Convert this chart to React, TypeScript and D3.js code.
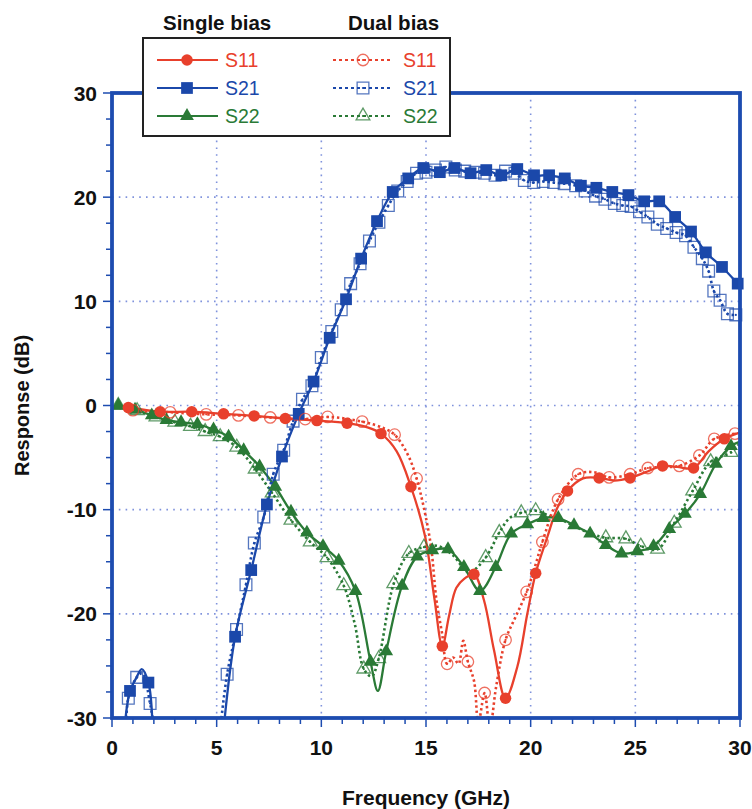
import React, { useEffect, useRef } from 'react';
import * as d3 from 'd3';

// [frequency GHz, response dB, 1 = marker drawn at this point]
const S11_SINGLE = [
  [0.1, -0.1, 0], [0.78, -0.2, 1], [2.3, -0.6, 1], [3.81, -0.6, 1], [5.33, -0.8, 1], [6.79, -1.0, 1],
  [8.28, -1.25, 1], [9.79, -1.45, 1], [11.23, -1.7, 1], [12.2, -2.1, 0], [12.85, -2.7, 1], [13.6, -4.4, 0],
  [14.28, -7.8, 1], [14.95, -12.5, 0], [15.4, -18.5, 0], [15.78, -23.1, 1], [16.1, -20.2, 0], [16.45, -17.5, 0],
  [16.85, -16.6, 0], [17.29, -16.2, 1], [17.77, -18.7, 0], [18.25, -23.5, 0], [18.8, -28.1, 1], [19.36, -25.1, 0],
  [19.84, -20.0, 0], [20.24, -16.1, 1], [20.8, -12.6, 0], [21.28, -9.8, 0], [21.76, -8.2, 1], [22.5, -7.0, 0],
  [23.27, -6.95, 1], [24.0, -7.2, 0], [24.75, -6.95, 1], [25.5, -6.4, 0], [26.3, -5.8, 1], [27.0, -5.9, 0],
  [27.78, -6.0, 1], [28.5, -4.4, 0], [29.25, -3.2, 1], [29.97, -2.6, 0],
];
const S11_DUAL = [
  [0.1, -0.1, 0], [1.0, -0.45, 1], [2.78, -0.65, 1], [4.5, -0.85, 1], [6.04, -0.95, 1], [7.56, -1.15, 1],
  [9.23, -1.3, 1], [10.3, -1.1, 1], [11.95, -1.55, 1], [13.0, -2.2, 0], [13.5, -2.8, 1], [14.1, -4.6, 0],
  [14.55, -7.0, 1], [15.2, -13.0, 0], [15.5, -18.7, 0], [15.77, -21.9, 0], [16.01, -24.8, 1], [16.3, -24.2, 0],
  [16.55, -24.8, 0], [16.78, -22.6, 0], [17.0, -24.6, 1], [17.3, -26.5, 0], [17.5, -30.5, 0], [17.8, -27.6, 1],
  [18.05, -31, 0], [18.35, -27, 0], [18.8, -22.5, 1], [19.3, -20.2, 0], [19.81, -17.9, 1], [20.2, -15.5, 0],
  [20.56, -13.1, 1], [21.31, -9.0, 1], [22.27, -6.6, 1], [23.0, -6.4, 0], [23.75, -6.9, 1], [24.75, -6.6, 1],
  [25.6, -6.0, 1], [26.4, -5.9, 0], [27.1, -5.8, 1], [28.06, -4.8, 1], [28.77, -3.2, 1], [29.76, -2.7, 1],
];
const S21_SINGLE = [
  [0.62, -30.5, 0], [0.86, -27.4, 1], [1.15, -26.2, 0], [1.42, -25.3, 0], [1.74, -26.6, 1], [1.93, -30.5, 0],
  [2.0, NaN, 0],
  [5.36, -30.5, 0], [5.88, -22.2, 1], [6.65, -15.8, 1], [7.4, -9.5, 1], [8.12, -4.9, 1], [8.92, -0.8, 1],
  [9.63, 2.3, 1], [10.4, 6.5, 1], [11.18, 10.2, 1], [11.9, 14.1, 1], [12.66, 17.7, 1], [13.41, 20.5, 1],
  [14.15, 21.8, 1], [14.87, 22.8, 1], [15.66, 22.4, 1], [16.36, 22.8, 1], [17.13, 22.3, 1], [17.88, 22.6, 1],
  [18.6, 22.1, 1], [19.36, 22.7, 1], [20.16, 22.1, 1], [20.88, 22.1, 1], [21.63, 21.8, 1], [22.4, 21.1, 1],
  [23.14, 20.9, 1], [23.9, 20.5, 1], [24.67, 20.2, 1], [25.42, 19.6, 1], [26.14, 19.6, 1], [26.9, 18.1, 1],
  [27.66, 16.7, 1], [28.37, 14.7, 1], [29.14, 13.3, 1], [29.89, 11.7, 1],
];
const S21_DUAL = [
  [0.68, -30.5, 0], [0.78, -28.1, 1], [1.18, -26.1, 1], [1.45, -25.7, 0], [1.82, -28.6, 1], [1.98, -30.5, 0],
  [2.0, NaN, 0],
  [5.2, -30.5, 0], [5.5, -25.8, 1], [5.95, -21.5, 1], [6.4, -17.2, 1], [6.8, -13.2, 1], [7.25, -10.7, 1],
  [7.7, -6.6, 1], [8.2, -4.3, 1], [8.65, -1.5, 1], [9.1, 0.6, 1], [9.55, 1.9, 1], [10.0, 4.6, 1], [10.5, 7.1, 1],
  [10.95, 9.2, 1], [11.4, 11.7, 1], [11.85, 13.6, 1], [12.3, 15.8, 1], [12.75, 17.6, 1], [13.2, 19.2, 1],
  [13.65, 20.6, 1], [14.1, 21.5, 1], [14.55, 22.3, 1], [15.0, 22.4, 1], [15.45, 22.6, 1], [15.95, 22.9, 1],
  [16.4, 22.6, 1], [16.85, 22.5, 1], [17.35, 22.4, 1], [17.8, 22.3, 1], [18.3, 22.1, 1], [18.8, 22.5, 1],
  [19.25, 22.3, 1], [19.7, 21.6, 1], [20.15, 21.4, 1], [20.6, 21.5, 1], [21.1, 21.4, 1], [21.6, 21.3, 1],
  [22.15, 21.1, 1], [22.6, 20.6, 1], [23.1, 20.1, 1], [23.55, 19.8, 1], [24.0, 19.4, 1], [24.4, 19.2, 1],
  [24.8, 19.1, 1], [25.2, 18.6, 1], [25.6, 18.1, 1], [26.05, 17.4, 1], [26.5, 17.0, 1], [26.95, 16.6, 1],
  [27.4, 16.3, 1], [27.8, 15.2, 1], [28.2, 14.1, 1], [28.5, 12.9, 1], [28.75, 11.0, 1], [29.05, 10.1, 1],
  [29.4, 8.8, 1], [29.8, 8.7, 1],
];
const S22_SINGLE = [
  [0.3, 0, 1], [1.1, -0.4, 1], [1.9, -0.95, 1], [2.6, -1.4, 1], [3.3, -1.6, 1], [4.08, -1.8, 1], [4.85, -2.3, 1],
  [5.57, -3.0, 1], [6.29, -4.3, 1], [7.05, -5.85, 1], [7.8, -7.8, 1], [8.55, -10.2, 1], [9.31, -12.2, 1],
  [10.08, -13.5, 1], [10.83, -14.9, 1], [11.63, -17.8, 1], [12.35, -24.6, 1], [12.7, -27.4, 0], [13.1, -23.6, 1],
  [13.86, -17.3, 1], [14.58, -14.5, 1], [15.3, -13.9, 1], [16.05, -13.8, 1], [16.81, -15.5, 1], [17.58, -17.8, 1],
  [18.33, -15.5, 1], [19.07, -12.3, 1], [19.84, -11.4, 1], [20.6, -10.8, 1], [21.32, -10.8, 1], [22.07, -11.5, 1],
  [22.84, -12.3, 1], [23.59, -13.4, 1], [24.34, -14.2, 1], [25.1, -14.0, 1], [25.87, -13.5, 1], [26.62, -11.85, 1],
  [27.37, -10.4, 1], [28.1, -8.5, 1], [28.85, -5.6, 1], [29.57, -3.9, 1], [29.97, -3.5, 0],
];
const S22_DUAL = [
  [0.3, 0, 1], [1.2, -0.5, 1], [2.1, -1.1, 1], [3.0, -1.6, 1], [3.75, -2.0, 1], [4.45, -2.5, 1], [5.17, -3.0, 1],
  [5.96, -4.0, 1], [6.84, -6.1, 1], [7.65, -8.4, 1], [8.55, -11.0, 1], [9.47, -13.1, 1], [10.27, -14.6, 1],
  [11.07, -17.3, 1], [11.6, -21.0, 0], [12.03, -25.3, 1], [12.4, -26.0, 0], [12.74, -24.3, 1], [13.46, -17.1, 1],
  [14.18, -14.2, 1], [14.9, -13.6, 1], [15.6, -13.5, 0], [16.3, -14.4, 0], [17.05, -16.0, 0], [17.85, -14.6, 1],
  [18.5, -12.2, 1], [19.0, -10.8, 0], [19.55, -10.3, 1], [20.24, -10.1, 1], [20.9, -10.6, 0], [21.6, -11.1, 0],
  [22.3, -11.8, 0], [23.0, -12.4, 0], [23.59, -12.7, 1], [24.55, -12.8, 1], [25.26, -13.5, 1], [26.06, -13.8, 1],
  [26.86, -11.3, 1], [27.74, -8.2, 1], [28.6, -5.4, 1], [29.57, -4.5, 1], [29.97, -3.7, 0],
];

const X_TICKS = [0, 5, 10, 15, 20, 25, 30];
const Y_TICKS = [-30, -20, -10, 0, 10, 20, 30];
const LEGEND_NAMES = ['S11', 'S21', 'S22'];

const RED = '#e8402c';
const BLUE = '#1b48aa';
const GREEN = '#2a7a36';
const AXIS = '#1d4cb0';
const GRID = '#7f92dc';
const FONT = 'Arial, "Liberation Sans", Helvetica, sans-serif';

export default function App() {
  const svgRef = useRef(null);

  useEffect(() => {
    const width = 752;
    const height = 809;
    const x0 = 112, x1 = 740, yTop = 93, yBot = 718;

    const x = d3.scaleLinear().domain([0, 30]).range([x0, x1]);
    const y = d3.scaleLinear().domain([-30, 30]).range([yBot, yTop]);

    const svg = d3.select(svgRef.current);
    svg.selectAll('*').remove();
    svg.attr('width', width).attr('height', height).attr('viewBox', `0 0 ${width} ${height}`);

    svg.append('defs').append('clipPath').attr('id', 'plot-clip')
      .append('rect').attr('x', x0).attr('y', yTop).attr('width', x1 - x0).attr('height', yBot - yTop);

    // dotted grid
    const grid = svg.append('g');
    X_TICKS.slice(1, -1).forEach(t => {
      grid.append('line').attr('x1', x(t)).attr('x2', x(t)).attr('y1', yTop).attr('y2', yBot)
        .attr('stroke', GRID).attr('stroke-width', 1.6).attr('stroke-dasharray', '1.6,5.2');
    });
    Y_TICKS.slice(1, -1).forEach(t => {
      grid.append('line').attr('x1', x0).attr('x2', x1).attr('y1', y(t)).attr('y2', y(t))
        .attr('stroke', GRID).attr('stroke-width', 1.6).attr('stroke-dasharray', '1.6,5.2');
    });

    const line = d3.line()
      .defined(d => !isNaN(d[1]))
      .x(d => x(d[0])).y(d => y(d[1]))
      .curve(d3.curveCatmullRom.alpha(0.5));

    const series = [
      { data: S22_DUAL, color: GREEN, dual: true, shape: 'tri' },
      { data: S22_SINGLE, color: GREEN, dual: false, shape: 'tri' },
      { data: S21_DUAL, color: BLUE, dual: true, shape: 'sq' },
      { data: S21_SINGLE, color: BLUE, dual: false, shape: 'sq' },
      { data: S11_DUAL, color: RED, dual: true, shape: 'circ' },
      { data: S11_SINGLE, color: RED, dual: false, shape: 'circ' },
    ];

    const symbolFor = shape => {
      if (shape === 'circ') return d3.symbol().type(d3.symbolCircle).size(Math.PI * 33)();
      if (shape === 'sq') return d3.symbol().type(d3.symbolSquare).size(138)();
      return d3.symbol().type(d3.symbolTriangle).size(82)();
    };

    const drawMarker = (g, cx, cy, s) => {
      const p = g.append('path').attr('d', symbolFor(s.shape))
        .attr('transform', `translate(${cx},${cy})`);
      if (s.dual) {
        p.attr('fill', 'none').attr('stroke', s.color).attr('stroke-opacity', 0.75).attr('stroke-width', 1.3);
        g.append('circle').attr('cx', cx).attr('cy', cy).attr('r', 1.1).attr('fill', s.color);
      } else {
        p.attr('fill', s.color).attr('stroke', 'none');
      }
    };

    const plot = svg.append('g').attr('clip-path', 'url(#plot-clip)');
    series.forEach(s => {
      plot.append('path').datum(s.data).attr('d', line)
        .attr('fill', 'none').attr('stroke', s.color)
        .attr('stroke-width', s.dual ? 2.6 : 2.3)
        .attr('stroke-dasharray', s.dual ? '2.4,2.8' : null);
    });
    const marks = svg.append('g');
    series.forEach(s => {
      s.data.filter(d => d[2] === 1 && !isNaN(d[1]))
        .forEach(d => drawMarker(marks, x(d[0]), y(d[1]), s));
    });

    // frame
    svg.append('rect').attr('x', x0).attr('y', yTop).attr('width', x1 - x0).attr('height', yBot - yTop)
      .attr('fill', 'none').attr('stroke', AXIS).attr('stroke-width', 3.8);

    // axes with minor ticks
    const xAxis = svg.append('g');
    d3.range(0, 31, 1).forEach(t => {
      const major = t % 5 === 0;
      xAxis.append('line').attr('x1', x(t)).attr('x2', x(t)).attr('y1', yBot).attr('y2', yBot + (major ? 9 : 6))
        .attr('stroke', AXIS).attr('stroke-width', 1.5);
    });
    X_TICKS.forEach(t => {
      xAxis.append('text').attr('x', x(t)).attr('y', 755).attr('text-anchor', 'middle')
        .style('font-family', FONT).style('font-weight', 'bold').style('font-size', '21px').style('fill', '#111')
        .text(t);
    });
    const yAxis = svg.append('g');
    d3.range(-30, 30.1, 2.5).forEach(t => {
      const major = t % 10 === 0;
      yAxis.append('line').attr('x1', x0 - (major ? 9 : 6)).attr('x2', x0).attr('y1', y(t)).attr('y2', y(t))
        .attr('stroke', AXIS).attr('stroke-width', 1.5);
    });
    Y_TICKS.forEach(t => {
      yAxis.append('text').attr('x', 97).attr('y', y(t) + 7.5).attr('text-anchor', 'end')
        .style('font-family', FONT).style('font-weight', 'bold').style('font-size', '21px').style('fill', '#111')
        .text(t);
    });

    svg.append('text').attr('x', (x0 + x1) / 2).attr('y', 805).attr('text-anchor', 'middle')
      .style('font-family', FONT).style('font-weight', 'bold').style('font-size', '21px').style('fill', '#111')
      .text('Frequency (GHz)');
    svg.append('text').attr('transform', `translate(29,${(yTop + yBot) / 2}) rotate(-90)`).attr('text-anchor', 'middle')
      .style('font-family', FONT).style('font-weight', 'bold').style('font-size', '20px').style('fill', '#111')
      .text('Response (dB)');

    // legend
    const lg = svg.append('g');
    lg.append('text').attr('x', 163).attr('y', 30)
      .style('font-family', FONT).style('font-weight', 'bold').style('font-size', '20.5px').style('fill', '#111')
      .text('Single bias');
    lg.append('text').attr('x', 348).attr('y', 30)
      .style('font-family', FONT).style('font-weight', 'bold').style('font-size', '20.5px').style('fill', '#111')
      .text('Dual bias');
    lg.append('rect').attr('x', 143).attr('y', 38).attr('width', 307).attr('height', 98)
      .attr('fill', 'white').attr('stroke', '#222').attr('stroke-width', 2);

    const legendSeries = [series[5], series[3], series[1]];
    const legendDual = [series[4], series[2], series[0]];
    LEGEND_NAMES.forEach((name, i) => {
      const ry = 60 + i * 28;
      const s = legendSeries[i];
      const sd = legendDual[i];
      lg.append('line').attr('x1', 157).attr('x2', 218).attr('y1', ry).attr('y2', ry)
        .attr('stroke', s.color).attr('stroke-width', 2);
      drawMarker(lg, 187, ry, s);
      lg.append('text').attr('x', 225).attr('y', ry + 7)
        .style('font-family', FONT).style('font-size', '19.5px').style('fill', s.color).text(name);
      lg.append('line').attr('x1', 333).attr('x2', 393).attr('y1', ry).attr('y2', ry)
        .attr('stroke', sd.color).attr('stroke-width', 2).attr('stroke-dasharray', '3,3');
      drawMarker(lg, 363, ry, sd);
      lg.append('text').attr('x', 403).attr('y', ry + 7)
        .style('font-family', FONT).style('font-size', '19.5px').style('fill', sd.color).text(name);
    });
  }, []);

  return (
    <svg ref={svgRef} style={{ position: 'absolute', left: 0, top: 0, background: 'white' }}></svg>
  );
}
